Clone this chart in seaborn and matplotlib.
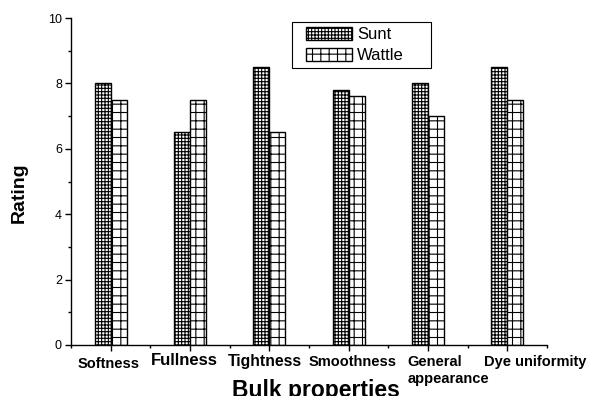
import matplotlib
matplotlib.use("Agg")
import matplotlib.pyplot as plt
import matplotlib.transforms as mtransforms
from matplotlib.patches import Patch, Rectangle
from matplotlib.ticker import MultipleLocator
import pandas as pd
import seaborn as sns

categories = ["Softness", "Fullness", "Tightness", "Smoothness",
              "General\nappearance", "Dye uniformity"]
sunt = [8.0, 6.5, 8.5, 7.8, 8.0, 8.5]
wattle = [7.5, 7.5, 6.5, 7.6, 7.0, 7.5]
series = ["Sunt", "Wattle"]
hatches = {"Sunt": "+++++", "Wattle": "++"}

df = pd.DataFrame({
    "property": categories * 2,
    "rating": sunt + wattle,
    "fibre": ["Sunt"] * len(categories) + ["Wattle"] * len(categories),
})

sns.set_theme(style="white")
plt.rcParams["font.family"] = ["Liberation Sans", "DejaVu Sans"]
plt.rcParams.update({
    "text.color": "black", "axes.labelcolor": "black",
    "xtick.color": "black", "ytick.color": "black",
    "hatch.linewidth": 0.8,
})

fig = plt.figure(figsize=(5.89, 3.96), dpi=100)
ax = fig.add_axes([0.1205, 0.1288, 0.8082, 0.8257])

sns.barplot(data=df, x="property", y="rating", hue="fibre",
            order=categories, hue_order=series,
            palette={"Sunt": "white", "Wattle": "white"},
            width=0.4, dodge=True, edgecolor="black", linewidth=1.0,
            legend=False, ax=ax)

n = len(categories)
for i, patch in enumerate(ax.patches[:2 * n]):
    patch.set_hatch(hatches[series[i // n]])
    patch.set_edgecolor("black")

ax.set_xlim(-0.5, n - 0.5)
ax.set_ylim(0, 10)
ax.yaxis.set_major_locator(MultipleLocator(2))
ax.yaxis.set_minor_locator(MultipleLocator(1))
ax.xaxis.set_minor_locator(MultipleLocator(1, offset=0.5))

for side in ("top", "right"):
    ax.spines[side].set_visible(False)
for side in ("left", "bottom"):
    ax.spines[side].set_color("black")
    ax.spines[side].set_linewidth(1.0)

ax.tick_params(axis="y", which="major", direction="out", length=4, width=1,
               labelsize=9, pad=2.5, left=True)
ax.tick_params(axis="y", which="minor", direction="out", length=2.5, width=1,
               left=True)
ax.tick_params(axis="x", which="major", direction="out", length=4, width=1,
               pad=2, bottom=True)
ax.tick_params(axis="x", which="minor", direction="out", length=2.5, width=1,
               bottom=True)

ax.set_xticks(range(n))
ax.set_xticklabels(categories, fontweight="bold")

# per-label size and nudge (dx, dy in points)
sizes = [10.5, 12, 11.3, 10.5, 10.5, 10.5]
shifts = [(-1.6, -2.5), (-4.3, 0.0), (-3.5, -0.5),
          (2.8, -1.5), (-15.0, -1.5), (19.7, -1.5)]
for lab, fs, (dx, dy) in zip(ax.get_xticklabels(), sizes, shifts):
    lab.set_fontsize(fs)
    lab.set_transform(lab.get_transform() +
                      mtransforms.ScaledTranslation(dx / 72, dy / 72,
                                                    fig.dpi_scale_trans))
gen = ax.get_xticklabels()[4]
gen.set_ha("left")
gen.set_multialignment("left")

ax.set_xlabel("Bulk properties", fontsize=16.5, fontweight="bold")
ax.xaxis.set_label_coords(0.515, -0.104)
ax.set_ylabel("Rating", fontsize=14, fontweight="bold")
ax.yaxis.set_label_coords(-0.09, 0.465)

# legend: entries without frame, box drawn around them
handles = [Patch(facecolor="white", edgecolor="black", hatch=hatches[s], label=s)
           for s in series]
leg = ax.legend(handles=handles, loc="upper left",
                bbox_to_anchor=(306 / 589, 1 - 27 / 396),
                bbox_transform=fig.transFigure,
                fontsize=12, frameon=False, handlelength=2.75,
                handleheight=0.85, handletextpad=0.3, labelspacing=0.32,
                borderpad=0.0, borderaxespad=0)
fig.add_artist(Rectangle((292 / 589, 1 - 68 / 396), 139 / 589, 46 / 396,
                         transform=fig.transFigure, facecolor="none",
                         edgecolor="black", linewidth=0.8))

fig.savefig("out.png", dpi=100, facecolor="white")
